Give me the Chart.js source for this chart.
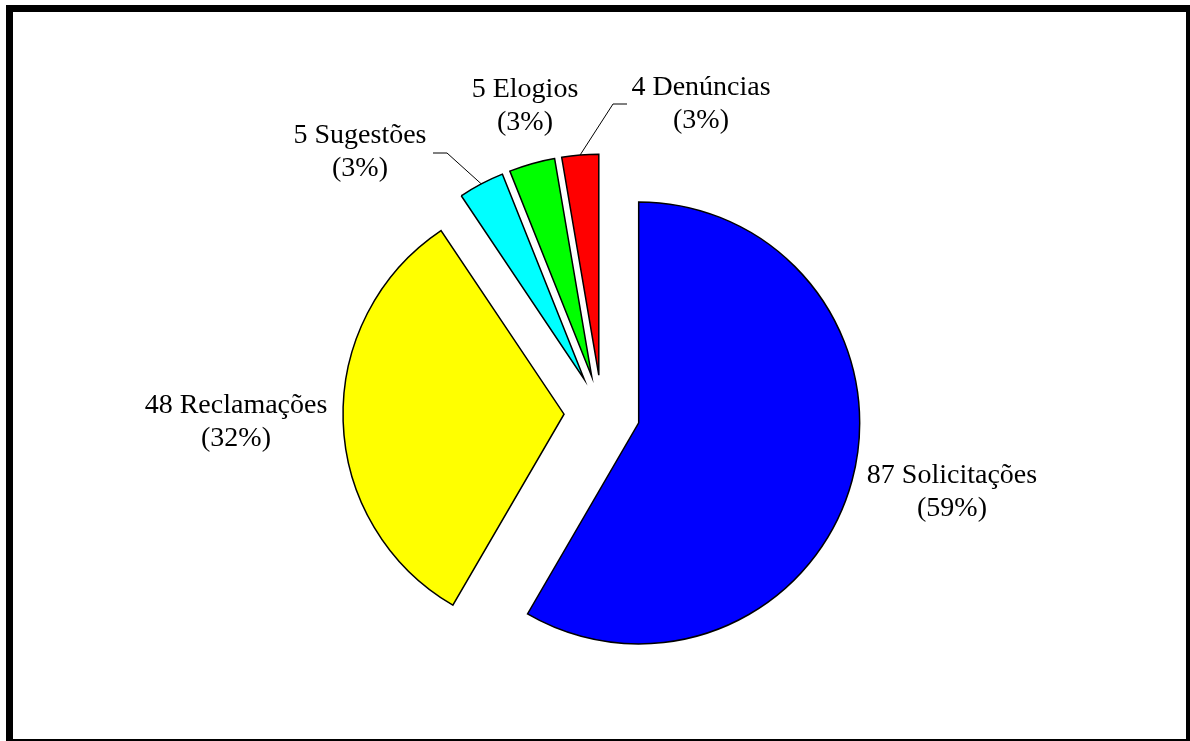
<!DOCTYPE html>
<html>
<head>
<meta charset="utf-8">
<script src="https://cdn.jsdelivr.net/npm/chart.js@4"></script>
<style>
  html, body { margin: 0; padding: 0; background: #fff; }
  #wrap { position: relative; width: 1190px; height: 741px; overflow: hidden; }
  #pie { position: absolute; left: 0; top: 0; }
  #frame {
    position: absolute; left: 6px; top: 5px; width: 1184px; height: 736px;
    box-sizing: border-box; pointer-events: none;
    border-top: 7px solid #000; border-left: 7px solid #000;
    border-right: 4px solid #000; border-bottom: 2px solid #000;
  }
</style>
</head>
<body>
<div id="wrap">
  <canvas id="pie" width="1190" height="741"></canvas>
  <div id="frame"></div>
</div>
<script>
const categories = ['Solicitações', 'Reclamações', 'Sugestões', 'Elogios', 'Denúncias'];
const counts = [87, 48, 5, 5, 4];
const percentLabels = ['59%', '32%', '3%', '3%', '3%'];
const sliceColors = ['#0000ff', '#ffff00', '#00ffff', '#00ff00', '#ff0000'];

// label block position (first baseline) relative to the pie centre
const labelOffsets = [[350, 70], [-366, 0], [-242, -270], [-77, -316], [99, -318]];
// leader lines: elbow points relative to the pie centre (null = no leader)
const leaders = [null, null, [[-155, -260], [-169, -260]], null, [[11, -309], [25, -309]]];

const EXPLODE = 38;
const FONT = '28px "Liberation Serif", "Times New Roman", serif';
const LINE_GAP = 33;

// pull every slice out along its bisector
const explodePlugin = {
  id: 'explode',
  afterDatasetsUpdate(chart) {
    chart.getDatasetMeta(0).data.forEach(arc => {
      const mid = (arc.startAngle + arc.endAngle) / 2;
      arc.$cx = arc.$cx ?? arc.x;
      arc.$cy = arc.$cy ?? arc.y;
      arc.x = arc.$cx + Math.cos(mid) * EXPLODE;
      arc.y = arc.$cy + Math.sin(mid) * EXPLODE;
    });
  }
};

const labelPlugin = {
  id: 'sliceLabels',
  afterDraw(chart) {
    const ctx = chart.ctx;
    const arcs = chart.getDatasetMeta(0).data;
    const cx = (chart.chartArea.left + chart.chartArea.right) / 2;
    const cy = (chart.chartArea.top + chart.chartArea.bottom) / 2;
    ctx.save();
    ctx.font = FONT;
    ctx.fillStyle = '#000';
    ctx.textAlign = 'center';
    ctx.textBaseline = 'alphabetic';
    arcs.forEach((arc, i) => {
      const lx = cx + labelOffsets[i][0];
      const ly = cy + labelOffsets[i][1];
      ctx.fillText(counts[i] + ' ' + categories[i], lx, ly);
      ctx.fillText('(' + percentLabels[i] + ')', lx, ly + LINE_GAP);
      if (leaders[i]) {
        const mid = (arc.startAngle + arc.endAngle) / 2;
        ctx.beginPath();
        ctx.moveTo(arc.x + Math.cos(mid) * arc.outerRadius, arc.y + Math.sin(mid) * arc.outerRadius);
        leaders[i].forEach(p => ctx.lineTo(cx + p[0], cy + p[1]));
        ctx.strokeStyle = '#000';
        ctx.lineWidth = 1;
        ctx.stroke();
      }
    });
    ctx.restore();
  }
};

new Chart(document.getElementById('pie'), {
  type: 'pie',
  data: {
    labels: categories,
    datasets: [{
      data: counts,
      backgroundColor: sliceColors,
      borderColor: '#000',
      borderWidth: 1.5,
      borderJoinStyle: 'miter'
    }]
  },
  options: {
    responsive: false,
    animation: false,
    events: [],
    radius: 221,
    layout: { padding: { left: 114, right: 100, top: 140, bottom: 55 } },
    plugins: {
      legend: { display: false },
      tooltip: { enabled: false }
    }
  },
  plugins: [explodePlugin, labelPlugin]
});
</script>
</body>
</html>
